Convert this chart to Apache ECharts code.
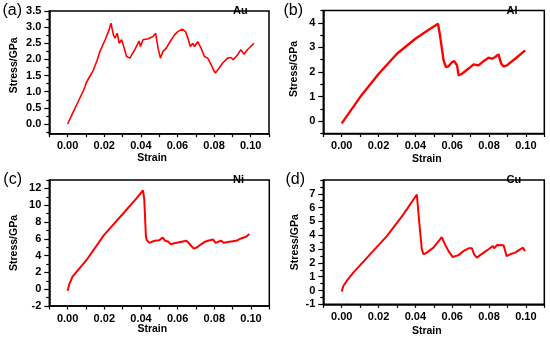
<!DOCTYPE html>
<html>
<head>
<meta charset="utf-8">
<script src="https://cdn.jsdelivr.net/npm/echarts@6/dist/echarts.min.js"></script>
<style>
html,body{margin:0;padding:0;background:#fff;}
#c{width:550px;height:340px;}
</style>
</head>
<body>
<div id="c"></div>
<script>
// ---- Data (strain, stress in GPa) ----
var auStrain = [0, 0.0033, 0.0060, 0.0085, 0.0096, 0.0101, 0.0132, 0.0141, 0.0160, 0.0177, 0.0205, 0.0223, 0.0237, 0.0250, 0.0259, 0.0271, 0.0282, 0.0295, 0.0304, 0.0322, 0.0340, 0.0350, 0.0367, 0.0390, 0.0398, 0.0412, 0.0440, 0.0467, 0.0481, 0.0494, 0.0507, 0.0521, 0.0539, 0.0566, 0.0584, 0.0602, 0.0626, 0.0644, 0.0657, 0.0670, 0.0684, 0.0693, 0.0711, 0.0729, 0.0747, 0.0765, 0.0784, 0.0796, 0.0807, 0.0825, 0.0847, 0.0874, 0.0892, 0.0904, 0.0928, 0.0946, 0.0964, 0.0982, 0.1018];
var auStress = [0, 0.40, 0.72, 1.02, 1.17, 1.27, 1.58, 1.68, 1.95, 2.25, 2.61, 2.86, 3.12, 2.76, 2.66, 2.81, 2.50, 2.61, 2.45, 2.09, 2.04, 2.14, 2.30, 2.57, 2.40, 2.61, 2.64, 2.71, 2.81, 2.35, 2.04, 2.25, 2.35, 2.61, 2.76, 2.86, 2.94, 2.86, 2.66, 2.40, 2.50, 2.40, 2.55, 2.35, 2.09, 2.04, 1.84, 1.68, 1.58, 1.71, 1.89, 2.04, 2.06, 1.99, 2.14, 2.30, 2.16, 2.30, 2.50];

var alStrain = [0, 0.0101, 0.0201, 0.0300, 0.0400, 0.0460, 0.0523, 0.0526, 0.0535, 0.0553, 0.0566, 0.0580, 0.0599, 0.0611, 0.0626, 0.0635, 0.0653, 0.0689, 0.0716, 0.0725, 0.0743, 0.0770, 0.0797, 0.0816, 0.0834, 0.0851, 0.0860, 0.0866, 0.0879, 0.0897, 0.0942, 0.0996];
var alStress = [-0.09, 0.99, 1.93, 2.74, 3.35, 3.66, 3.96, 3.99, 3.42, 2.47, 2.20, 2.23, 2.40, 2.44, 2.27, 1.86, 1.93, 2.14, 2.31, 2.24, 2.27, 2.44, 2.58, 2.54, 2.61, 2.72, 2.64, 2.34, 2.23, 2.27, 2.54, 2.88];

var niStrain = [0, 0.0009, 0.0027, 0.0108, 0.0198, 0.0297, 0.0378, 0.0411, 0.0414, 0.0418, 0.0427, 0.0432, 0.0445, 0.0459, 0.0477, 0.0486, 0.0500, 0.0519, 0.0532, 0.0550, 0.0562, 0.0577, 0.0595, 0.0622, 0.0649, 0.0663, 0.0676, 0.0688, 0.0703, 0.0721, 0.0748, 0.0766, 0.0793, 0.0807, 0.0820, 0.0838, 0.0851, 0.0883, 0.0919, 0.0946, 0.0973, 0.0991];
var niStress = [-0.2, 0.6, 1.49, 3.62, 6.44, 8.86, 10.87, 11.76, 11.8, 10.7, 6.24, 5.84, 5.52, 5.64, 5.76, 5.64, 5.84, 6.16, 5.76, 5.64, 5.36, 5.44, 5.52, 5.64, 5.76, 5.44, 5.11, 4.83, 4.95, 5.24, 5.64, 5.76, 5.92, 5.52, 5.64, 5.76, 5.52, 5.64, 5.76, 6.04, 6.24, 6.56];

var cuStrain = [0, 0.0009, 0.0027, 0.0063, 0.0154, 0.0245, 0.0335, 0.0408, 0.0411, 0.0422, 0.0435, 0.0444, 0.0462, 0.0498, 0.0534, 0.0543, 0.0561, 0.0580, 0.0603, 0.0634, 0.0661, 0.0688, 0.0707, 0.0719, 0.0734, 0.0752, 0.0788, 0.0821, 0.0828, 0.0843, 0.0879, 0.0885, 0.0895, 0.0915, 0.0942, 0.0969, 0.0984, 0.0996];
var cuStress = [-0.08, 0.33, 0.69, 1.29, 2.62, 3.94, 5.51, 6.95, 7.0, 4.78, 2.98, 2.62, 2.74, 3.10, 3.70, 3.87, 3.34, 2.85, 2.42, 2.56, 2.85, 3.05, 3.05, 2.62, 2.38, 2.56, 2.90, 3.22, 3.05, 3.29, 3.27, 2.98, 2.49, 2.62, 2.74, 2.98, 3.10, 2.85];

// ---- Tick labels ----
var xTickLabels = [0, 0.02, 0.04, 0.06, 0.08, 0.10];
var xTicks = [-0.01, 0, 0.01, 0.02, 0.03, 0.04, 0.05, 0.06, 0.07, 0.08, 0.09, 0.10, 0.11];
var auYLabels = [0, 0.5, 1.0, 1.5, 2.0, 2.5, 3.0, 3.5];
var auYMinor = [-0.25, 0.25, 0.75, 1.25, 1.75, 2.25, 2.75, 3.25];
var alYLabels = [0, 1, 2, 3, 4];
var alYMinor = [-0.5, 0.5, 1.5, 2.5, 3.5, 4.5];
var niYLabels = [-2, 0, 2, 4, 6, 8, 10, 12];
var niYMinor = [-1, 1, 3, 5, 7, 9, 11, 13];
var cuYLabels = [-1, 0, 1, 2, 3, 4, 5, 6, 7];
var cuYMinor = [-0.5, 0.5, 1.5, 2.5, 3.5, 4.5, 5.5, 6.5, 7.5, 8];

var panelLetters = ['(a)', '(b)', '(c)', '(d)'];
var materials = ['Au', 'Al', 'Ni', 'Cu'];
var xTitle = 'Strain';
var yTitle = 'Stress/GPa';

function pairs(xs, ys) { return xs.map(function (x, i) { return [x, ys[i]]; }); }

var FONT = '"Liberation Sans", Arial, sans-serif';

var panels = [
  {grid: {left: 49.3, top: 11, width: 219.7, height: 122.7}, yMin: -0.3, yMax: 3.5, yl: auYLabels, ym: auYMinor, dec: 1, data: pairs(auStrain, auStress), lw: 1.6, yGap: 30, yPad: [0, 0, 0, 14], xGap: 19,
   letterGap: 27.3, letterPadTop: 2, matGap: -36, matPadTop: 28},
  {grid: {left: 323.3, top: 10.5, width: 221, height: 123}, yMin: -0.5, yMax: 4.5, yl: alYLabels, ym: alYMinor, dec: 0, data: pairs(alStrain, alStress), lw: 2.4, yGap: 24, yPad: [0, 0, 0, 6], xGap: 20,
   letterGap: 20.3, letterPadTop: 3, matGap: -37.8, matPadTop: 29},
  {grid: {left: 49.3, top: 180, width: 220, height: 126}, yMin: -2, yMax: 13, yl: niYLabels, ym: niYMinor, dec: 0, data: pairs(niStrain, niStress), lw: 2.0, yGap: 30, yPad: [0, 0, 0, 0], xGap: 18,
   letterGap: 27.3, letterPadTop: 3, matGap: -36.3, matPadTop: 30},
  {grid: {left: 323.3, top: 180, width: 221, height: 124.3}, yMin: -1, yMax: 8, yl: cuYLabels, ym: cuYMinor, dec: 0, data: pairs(cuStrain, cuStress), lw: 2.0, yGap: 23, yPad: [0, 0, 0, 0], xGap: 21,
   letterGap: 18.3, letterPadTop: 4, matGap: -37.8, matPadTop: 30}
];

var grids = [], xAxes = [], yAxes = [], seriesList = [];
panels.forEach(function (p, i) {
  var g = Object.assign({}, p.grid);
  g.show = true; g.borderColor = '#000'; g.borderWidth = 1.5;
  grids.push(g);
  var labelStyle = {color: '#000', fontFamily: FONT, fontWeight: 'bold', fontSize: 11};
  var nameFont = {color: '#000', fontFamily: FONT, fontWeight: 'bold', fontSize: 10.5};
  var hidden = {splitLine: {show: false}, axisLine: {show: false, onZero: false}, axisTick: {show: false}, axisLabel: {show: false}};

  // main x axis: line, ticks, labels
  var xa = {type: 'value', gridIndex: i, min: -0.01, max: 0.11, position: 'bottom', splitLine: {show: false},
    axisLine: {show: true, onZero: false, lineStyle: {color: '#000', width: 1.5}},
    axisTick: {show: true, length: 3.5, customValues: xTicks, lineStyle: {color: '#000', width: 1.2}},
    axisLabel: {customValues: xTickLabels, formatter: function (v) { return v.toFixed(2); }}};
  Object.assign(xa.axisLabel, labelStyle, {margin: 7});
  xAxes.push(xa);
  var xIdx = xAxes.length - 1;
  // x title
  xAxes.push(Object.assign({type: 'value', gridIndex: i, min: -0.01, max: 0.11, position: 'bottom',
    name: xTitle, nameLocation: 'middle', nameGap: p.xGap,
    nameTextStyle: Object.assign({padding: [0, 14, 0, 0], verticalAlign: 'top'}, nameFont)}, hidden));
  // panel letter (left of top edge)
  xAxes.push(Object.assign({type: 'value', gridIndex: i, min: -0.01, max: 0.11, position: 'top',
    name: panelLetters[i], nameLocation: 'start', nameGap: p.letterGap,
    nameTextStyle: {color: '#000', fontFamily: FONT, fontWeight: 'normal', fontSize: 16, align: 'right', verticalAlign: 'middle', padding: [p.letterPadTop, 0, 0, 0]}}, hidden));
  // material label (inside top-right)
  xAxes.push(Object.assign({type: 'value', gridIndex: i, min: -0.01, max: 0.11, position: 'top',
    name: materials[i], nameLocation: 'end', nameGap: p.matGap,
    nameTextStyle: {color: '#000', fontFamily: FONT, fontWeight: 'bold', fontSize: 11, align: 'left', verticalAlign: 'middle', padding: [p.matPadTop, 0, 0, 0]}}, hidden));

  // main y axis: line, major ticks, labels
  var dec = p.dec;
  var ya = {type: 'value', gridIndex: i, min: p.yMin, max: p.yMax, position: 'left', splitLine: {show: false},
    axisLine: {show: true, onZero: false, lineStyle: {color: '#000', width: 1.5}},
    axisTick: {show: true, length: 5, customValues: p.yl, lineStyle: {color: '#000', width: 1.2}},
    axisLabel: {customValues: p.yl, formatter: function (v) { return v.toFixed(dec); }}};
  Object.assign(ya.axisLabel, labelStyle, {margin: 8});
  yAxes.push(ya);
  var yIdx = yAxes.length - 1;
  // minor y ticks + title
  yAxes.push({type: 'value', gridIndex: i, min: p.yMin, max: p.yMax, position: 'left', splitLine: {show: false},
    axisLine: {show: false, onZero: false},
    axisTick: {show: true, length: 3, customValues: p.ym, lineStyle: {color: '#000', width: 1.2}},
    axisLabel: {show: false},
    name: yTitle, nameLocation: 'middle', nameGap: p.yGap, nameRotate: 90,
    nameTextStyle: Object.assign({padding: p.yPad}, nameFont)});

  seriesList.push({type: 'line', xAxisIndex: xIdx, yAxisIndex: yIdx, data: p.data, symbol: 'none',
    lineStyle: {color: '#ff0000', width: p.lw}});
});

var chart = echarts.init(document.getElementById('c'));
chart.setOption({animation: false, grid: grids, xAxis: xAxes, yAxis: yAxes, series: seriesList});
</script>
</body>
</html>
